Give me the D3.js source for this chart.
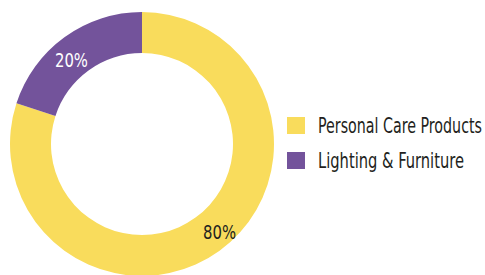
<!DOCTYPE html>
<html>
<head>
<meta charset="utf-8">
<script src="https://cdn.jsdelivr.net/npm/d3@7"></script>
<style>
  body { margin: 0; background: #fff; }
  svg { display: block; font-family: 'DejaVu Sans Condensed', 'DejaVu Sans', sans-serif; font-stretch: condensed; }
</style>
</head>
<body>
<script>
// Data
var categories = ['Personal Care Products', 'Lighting & Furniture'];
var values = [80, 20];
var colors = ['#f9dc5c', '#73539b'];
var labelColors = ['#231f20', '#ffffff'];

// Layout
var width = 485, height = 275;
var cx = 142, cy = 144;
var outerR = 132, innerR = 91;
var labelNudge = [[12, -2], [-5, 6]];
var legendTextWidth = [164, 146];
var stretchY = 1.33;

var svg = d3.select('body').append('svg')
		.attr('width', width)
		.attr('height', height);

var data = categories.map(function(c, i) { return { name: c, value: values[i], i: i }; });

var pie = d3.pie()
		.sort(null)
		.value(function(d) { return d.value; });

var arc = d3.arc()
		.innerRadius(innerR)
		.outerRadius(outerR);

var color = d3.scaleOrdinal().domain(categories).range(colors);

var g = svg.append('g')
		.attr('transform', 'translate(' + cx + ',' + cy + ')');

var slices = g.selectAll('.slice')
		.data(pie(data))
		.enter()
	.append('g')
		.attr('class', 'slice');

slices.append('path')
		.attr('d', arc)
		.attr('fill', function(d) { return color(d.data.name); });

// Percent labels
var total = d3.sum(values);
slices.append('text')
		.attr('transform', function(d) {
			var c = arc.centroid(d);
			var n = labelNudge[d.data.i];
			return 'translate(' + (c[0] + n[0]) + ',' + (c[1] + n[1]) + ')';
		})
		.attr('text-anchor', 'middle')
		.attr('dy', '0.36em')
		.attr('font-size', 20)
		.attr('textLength', 33)
		.attr('lengthAdjust', 'spacingAndGlyphs')
		.attr('fill', function(d) { return labelColors[d.data.i]; })
		.text(function(d) { return Math.round(d.data.value / total * 100) + '%'; });

// Legend
var legend = svg.selectAll('.legend')
		.data(categories)
		.enter()
	.append('g')
		.attr('class', 'legend')
		.attr('transform', function(d, i) { return 'translate(287,' + (117 + i * 35) + ')'; });

legend.append('rect')
		.attr('width', 18)
		.attr('height', 17)
		.attr('fill', function(d) { return color(d); });

legend.append('text')
		.attr('transform', 'scale(1,' + stretchY + ')')
		.attr('x', 31)
		.attr('y', 16 / stretchY)
		.attr('font-size', 16)
		.attr('textLength', function(d, i) { return legendTextWidth[i]; })
		.attr('lengthAdjust', 'spacingAndGlyphs')
		.attr('fill', '#231f20')
		.text(function(d) { return d; });
</script>
</body>
</html>
